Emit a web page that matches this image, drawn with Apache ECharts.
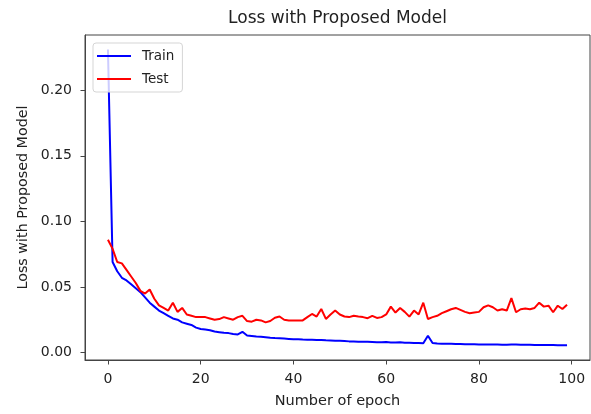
<!DOCTYPE html>
<html>
<head>
<meta charset="utf-8">
<script src="https://cdn.jsdelivr.net/npm/echarts@6/dist/echarts.min.js"></script>
<style>
html,body{margin:0;padding:0;background:#fff;}
#chart{width:591px;height:414px;}
</style>
</head>
<body>
<div id="chart"></div>
<script>
const epochs = Array.from({length: 100}, (_, i) => i);
const trainLoss = [
0.231,0.069,0.062,0.057,0.055,0.052,0.049,0.046,0.042,0.038,
0.035,0.032,0.030,0.028,0.026,0.025,0.023,0.022,0.021,0.019,
0.018,0.0175,0.017,0.016,0.0155,0.015,0.0148,0.0142,0.0138,0.0158,
0.013,0.0126,0.0122,0.012,0.0117,0.0113,0.011,0.0108,0.0106,0.0104,
0.0102,0.0101,0.0099,0.0098,0.0097,0.0095,0.0096,0.0093,0.0092,0.009,
0.0089,0.0087,0.0085,0.0084,0.0083,0.0082,0.0083,0.0081,0.0079,0.0078,
0.008,0.0077,0.0076,0.0078,0.0075,0.0074,0.0073,0.0072,0.0071,0.0128,
0.0072,0.0068,0.0067,0.0066,0.0066,0.0065,0.0065,0.0064,0.0063,0.0063,
0.0062,0.0062,0.0061,0.0062,0.0061,0.006,0.006,0.0061,0.0062,0.006,
0.0059,0.0059,0.0058,0.0058,0.0058,0.0057,0.0057,0.0056,0.0056,0.0056
];
const testLoss = [
0.086,0.079,0.069,0.068,0.063,0.058,0.053,0.047,0.045,0.048,
0.041,0.036,0.034,0.032,0.038,0.031,0.034,0.029,0.028,0.027,
0.027,0.027,0.026,0.025,0.0255,0.027,0.026,0.025,0.027,0.028,
0.024,0.0235,0.025,0.0245,0.023,0.024,0.0265,0.0275,0.025,0.0245,
0.0245,0.0245,0.0245,0.027,0.0294,0.0274,0.0332,0.0256,0.029,0.032,
0.029,0.0275,0.027,0.028,0.0274,0.027,0.0262,0.028,0.0264,0.027,
0.029,0.035,0.0305,0.034,0.031,0.0274,0.032,0.029,0.038,0.0256,
0.027,0.028,0.030,0.0315,0.033,0.034,0.0325,0.031,0.030,0.0305,
0.031,0.0345,0.036,0.0345,0.032,0.033,0.032,0.0415,0.0307,0.033,
0.0335,0.033,0.034,0.038,0.035,0.0357,0.0307,0.0357,0.0332,0.0365
];
const xTicks = [0, 20, 40, 60, 80, 100];
const yTicks = [0.00, 0.05, 0.10, 0.15, 0.20];

const FONT = 'DejaVu Sans';
const TXT = '#222';
const chart = echarts.init(document.getElementById('chart'));
chart.setOption({
  animation: false,
  backgroundColor: '#fff',
  title: {
    text: 'Loss with Proposed Model',
    left: 337.5, top: 10, textAlign: 'center', padding: 0,
    textStyle: {fontFamily: FONT, fontSize: 17, fontWeight: 'normal', color: TXT}
  },
  grid: {left: 85, right: 1, top: 35, bottom: 50, show: true, borderColor: '#444', borderWidth: 1, backgroundColor: '#fff'},
  legend: {
    orient: 'vertical', left: 93, top: 43,
    data: ['Train', 'Test'],
    icon: 'rect', itemWidth: 34, itemHeight: 2, itemGap: 9,
    padding: [6, 8, 6, 4],
    backgroundColor: 'rgba(255,255,255,0.8)', borderColor: '#d5d5d5', borderWidth: 1, borderRadius: 3,
    textStyle: {fontFamily: FONT, fontSize: 13.5, color: TXT, padding: [0, 0, 0, 6]}
  },
  xAxis: {
    type: 'value', min: -4.95, max: 103.95, minInterval: 20, maxInterval: 20,
    name: 'Number of epoch', nameLocation: 'middle', nameGap: 34,
    nameTextStyle: {fontFamily: FONT, fontSize: 14.5, color: TXT},
    axisLine: {show: true, onZero: false, lineStyle: {color: '#444', width: 1}},
    axisTick: {show: true, length: 4.5, lineStyle: {color: '#444'}, customValues: xTicks},
    axisLabel: {fontFamily: FONT, fontSize: 14, color: TXT, margin: 12,
      customValues: xTicks, formatter: v => String(Math.round(v))},
    splitLine: {show: false}
  },
  yAxis: {
    type: 'value', min: -0.0057, max: 0.2421, minInterval: 0.05, maxInterval: 0.05,
    name: 'Loss with Proposed Model', nameLocation: 'middle', nameGap: 49,
    nameTextStyle: {fontFamily: FONT, fontSize: 14.3, color: TXT},
    axisLine: {show: true, onZero: false, lineStyle: {color: '#444', width: 1}},
    axisTick: {show: true, length: 4.5, lineStyle: {color: '#444'}, customValues: yTicks},
    axisLabel: {fontFamily: FONT, fontSize: 14, color: TXT, margin: 13,
      customValues: yTicks, formatter: v => v.toFixed(2)},
    splitLine: {show: false}
  },
  series: [
    {name: 'Train', type: 'line', data: epochs.map((e, i) => [e, trainLoss[i]]), showSymbol: false, symbol: 'none',
     lineStyle: {color: '#0000ff', width: 2}, itemStyle: {color: '#0000ff'}, z: 2},
    {name: 'Test', type: 'line', data: epochs.map((e, i) => [e, testLoss[i]]), showSymbol: false, symbol: 'none',
     lineStyle: {color: '#ff0000', width: 2}, itemStyle: {color: '#ff0000'}, z: 3}
  ]
});
</script>
</body>
</html>
